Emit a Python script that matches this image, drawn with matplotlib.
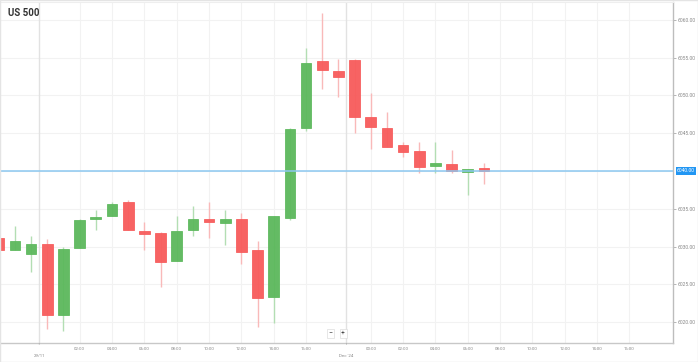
import numpy as np
import matplotlib.pyplot as plt
from matplotlib.patches import Rectangle

plt.rcParams['font.family'] = ['Roboto', 'DejaVu Sans']

# hourly candles, US 500 (29/11 -> 2 Dec)
opens = [6031.2, 6029.6, 6029.0, 6030.4, 6020.9, 6029.8, 6033.6, 6034.0, 6035.9, 6032.1,
         6031.8, 6028.1, 6032.2, 6033.6, 6033.1, 6033.6, 6029.5, 6023.3, 6033.8, 6045.7,
         6054.5, 6053.2, 6054.7, 6047.2, 6045.7, 6043.4, 6042.6, 6040.6, 6040.9, 6039.9, 6040.4]
highs = [6031.2, 6032.7, 6031.4, 6031.0, 6030.0, 6033.6, 6034.8, 6035.9, 6036.2, 6033.2,
         6031.9, 6034.0, 6035.4, 6035.9, 6034.8, 6034.4, 6030.7, 6034.0, 6045.7, 6056.3,
         6060.9, 6054.8, 6054.8, 6050.3, 6047.8, 6043.8, 6043.8, 6043.8, 6042.8, 6040.3, 6041.0]
lows = [6029.5, 6029.6, 6026.7, 6019.1, 6018.9, 6029.8, 6032.2, 6034.0, 6032.2, 6029.5,
        6024.7, 6028.1, 6031.4, 6031.2, 6030.2, 6027.7, 6019.4, 6019.9, 6033.5, 6045.3,
        6050.8, 6049.8, 6045.0, 6042.9, 6043.2, 6041.8, 6039.8, 6039.8, 6039.8, 6036.8, 6038.3]
closes = [6029.5, 6030.7, 6030.4, 6021.0, 6029.7, 6033.5, 6033.9, 6035.7, 6032.2, 6031.7,
          6027.9, 6032.1, 6033.7, 6033.2, 6033.7, 6029.3, 6023.2, 6034.0, 6045.5, 6054.3,
          6053.3, 6052.4, 6047.1, 6045.8, 6043.2, 6042.5, 6040.5, 6041.0, 6040.0, 6040.3, 6040.0]

last_price = 6040.00
price_ticks = [6020, 6025, 6030, 6035, 6045, 6050, 6055, 6060]

# time axis labels (bar index -> label)
time_pos = [5, 7, 9, 11, 13, 15, 17, 19, 23, 25, 27, 29, 31, 33, 35, 37, 39]
time_lab = ['02:00', '04:00', '06:00', '08:00', '10:00', '12:00', '14:00', '16:00',
            '00:00', '02:00', '04:00', '06:00', '08:00', '10:00', '12:00', '14:00', '16:00']
date_pos = [2.5, 21.5]
date_lab = ['29/11', "Dec '24"]

green = '#5cb85c'
red = '#f75b5b'
green_wick = '#b3deb3'
red_wick = '#f9b9b9'

fig = plt.figure(figsize=(6.98, 3.62), dpi=100)
ax = fig.add_axes([0.0, 362 - 343, 673, 341])
ax.set_position([0.0, (362 - 343) / 362, 673 / 698, 341 / 362])

x = np.arange(len(opens))
o = np.array(opens)
c = np.array(closes)
up = c >= o
bcol = np.where(up, green, red)
wcol = np.where(up, green_wick, red_wick)

ax.vlines(x, lows, highs, colors=wcol, linewidth=1, zorder=2)
bottoms = np.minimum(o, c)
heights = np.maximum(np.abs(c - o), 0.3)
ax.bar(x, heights, bottom=bottoms, width=0.66, color=bcol, edgecolor=bcol,
       linewidth=0.6, alpha=0.95, zorder=3)

ax.set_xlim(0.074, 41.69)
ax.set_ylim(6017.25, 6062.35)

# grid
for v in list(range(6020, 6065, 5)):
    ax.axhline(v, color='#f2f2f2', linewidth=0.8, zorder=0)
for p in time_pos:
    ax.axvline(p, color='#f2f2f2', linewidth=0.8, zorder=0)
for p in date_pos:
    ax.axvline(p, color='#e2e2e2', linewidth=1, zorder=0)

# current price line
ax.axhline(last_price, color='#8cc8f0', linewidth=1.1, zorder=4)

ax.yaxis.tick_right()
ax.set_yticks(price_ticks)
ax.set_yticklabels([f'{v:.2f}' for v in price_ticks])
ax.tick_params(axis='y', length=2, width=0.6, color='#aaaaaa', labelsize=3.6,
               labelcolor='#888888', pad=1)
ax.set_xticks([])
ax.text(1.006, last_price, f'{last_price:.2f}', transform=ax.get_yaxis_transform(),
        fontsize=3.6, color='white', va='center', ha='left',
        bbox=dict(boxstyle='square,pad=0.25', fc='#2196f3', ec='none'))

for p, lab in zip(time_pos, time_lab):
    ax.annotate(lab, (p, 0), xycoords=('data', 'axes fraction'), xytext=(0, -4.5),
                textcoords='offset points', ha='center', va='center', fontsize=3.2,
                color='#888888', annotation_clip=False)
for p, lab in zip(date_pos, date_lab):
    ax.annotate(lab, (p, 0), xycoords=('data', 'axes fraction'), xytext=(0, -9.5),
                textcoords='offset points', ha='center', va='center', fontsize=3.2,
                color='#888888', annotation_clip=False)
    ax.annotate('', (p, 0), xycoords=('data', 'axes fraction'), xytext=(p, -0.012),
                textcoords=('data', 'axes fraction'),
                arrowprops=dict(arrowstyle='-', color='#aaaaaa', lw=0.6, linestyle=':'),
                annotation_clip=False)

for s in ['left']:
    ax.spines[s].set_visible(False)
ax.spines['top'].set_color('#eeeeee')
ax.spines['right'].set_color('#bdbdbd')
ax.spines['bottom'].set_color('#c8c8c8')
ax.spines['right'].set_linewidth(1)
ax.spines['bottom'].set_linewidth(1)

# zoom buttons
ax.text(20.5, 0.028, '\u2212', transform=ax.get_xaxis_transform(), fontsize=5,
        ha='center', va='center', color='#444444',
        bbox=dict(boxstyle='square,pad=0.2', fc='white', ec='#dddddd', lw=0.5))
ax.text(21.3, 0.028, '+', transform=ax.get_xaxis_transform(), fontsize=5,
        ha='center', va='center', color='#444444',
        bbox=dict(boxstyle='square,pad=0.2', fc='white', ec='#dddddd', lw=0.5))

fig.text(8 / 698, 1 - 13 / 362, 'US 500', fontsize=7, fontweight='bold',
         color='#333333', ha='left', va='center')

fig.patches.append(Rectangle((0, 0), 1, 1, transform=fig.transFigure, fill=False,
                             ec='#e4e4e4', lw=1))

fig.savefig('out.png', dpi=100)
